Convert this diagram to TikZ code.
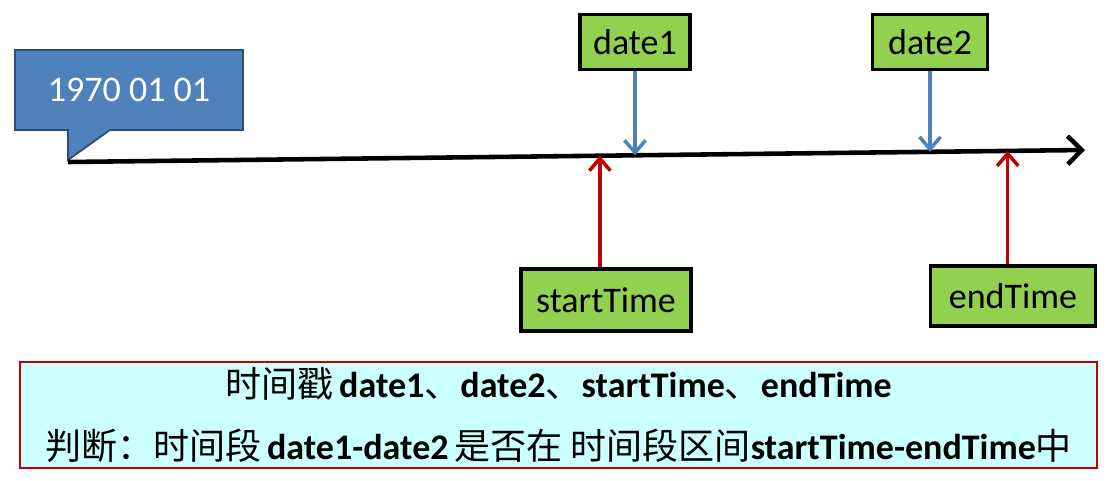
\documentclass[tikz,border=0pt]{standalone}
\usepackage{fontspec}
\setmainfont{Carlito}
\newfontfamily\cjk{Noto Sans CJK SC}
\usetikzlibrary{arrows.meta,calc,positioning}
\definecolor{boxgreen}{HTML}{92D050}
\definecolor{calloutblue}{HTML}{4F81BD}
\definecolor{arrowblue}{HTML}{4F81BD}
\definecolor{arrowred}{HTML}{C00000}
\definecolor{notecyan}{HTML}{CCFFFF}
\tikzset{%
	timebox/.style  = {draw=black, fill=boxgreen, line width=2pt, rectangle, font=\fontsize{20.5}{24}\selectfont, inner sep=0pt},
	bluearrow/.style = {draw=arrowblue, line width=2pt, -{Straight Barb[length=7pt,width=12pt]}},
	redarrow/.style  = {draw=arrowred, line width=2pt, -{Straight Barb[length=7pt,width=12pt]}},
}
\begin{document}
\begin{tikzpicture}[x=0.02cm, y=-0.02cm]
	\useasboundingbox (0,0) rectangle (1115,480);
	% callout
	\draw[fill=calloutblue, draw=calloutblue!60!black, line width=1pt]
		(15,50) -- (243,50) -- (243,130) -- (110,130) -- (68,160) -- (68,130) -- (15,130) -- cycle;
	\node[text=white, font=\fontsize{20.5}{24}\selectfont] (epoch) at (129,90) {1970 01 01};
	% time axis
	\coordinate (ax0) at (68,162);
	\coordinate (ax1) at (1085,150);
	\draw[line width=2.6pt, -{Straight Barb[length=8pt,width=16pt]}] (ax0) -- (ax1);
	\coordinate (p1) at ($(ax0)!0.556!(ax1)$);
	\coordinate (p2) at ($(ax0)!0.846!(ax1)$);
	\coordinate (ps) at ($(ax0)!0.523!(ax1)$);
	\coordinate (pe) at ($(ax0)!0.924!(ax1)$);
	% boxes
	\node[timebox, minimum width=2.2cm, minimum height=1.1cm] (date1) at (635,42) {date1};
	\node[timebox, minimum width=2.3cm, minimum height=1.1cm] (date2) at (930,42) {date2};
	\node[timebox, minimum width=3.4cm, minimum height=1.25cm] (start) at (606,300) {startTime};
	\node[timebox, minimum width=3.3cm, minimum height=1.2cm] (end) at (1013,296) {endTime};
	% arrows
	\draw[bluearrow] (date1.south) -- (date1.south |- p1);
	\draw[bluearrow] (date2.south) -- (date2.south |- p2);
	\draw[redarrow] (start.north -| ps) -- (ps);
	\draw[redarrow] (end.north -| pe) -- (pe);
	% note
	\node[draw=arrowred, fill=notecyan, line width=1pt, minimum width=21.54cm, minimum height=2cm, align=center,
		font=\fontsize{20.5}{35}\selectfont] (note) at (558.5,415)
		{{\cjk 时间戳}\,\textbf{date1}{\cjk 、}\textbf{date2}{\cjk 、}\textbf{startTime}{\cjk 、}\textbf{endTime}\\
		{\cjk 判断：时间段}\,\textbf{date1-date2}\,{\cjk 是否在 时间段区间}\textbf{startTime-endTime}{\cjk 中}};
\end{tikzpicture}
\end{document}
